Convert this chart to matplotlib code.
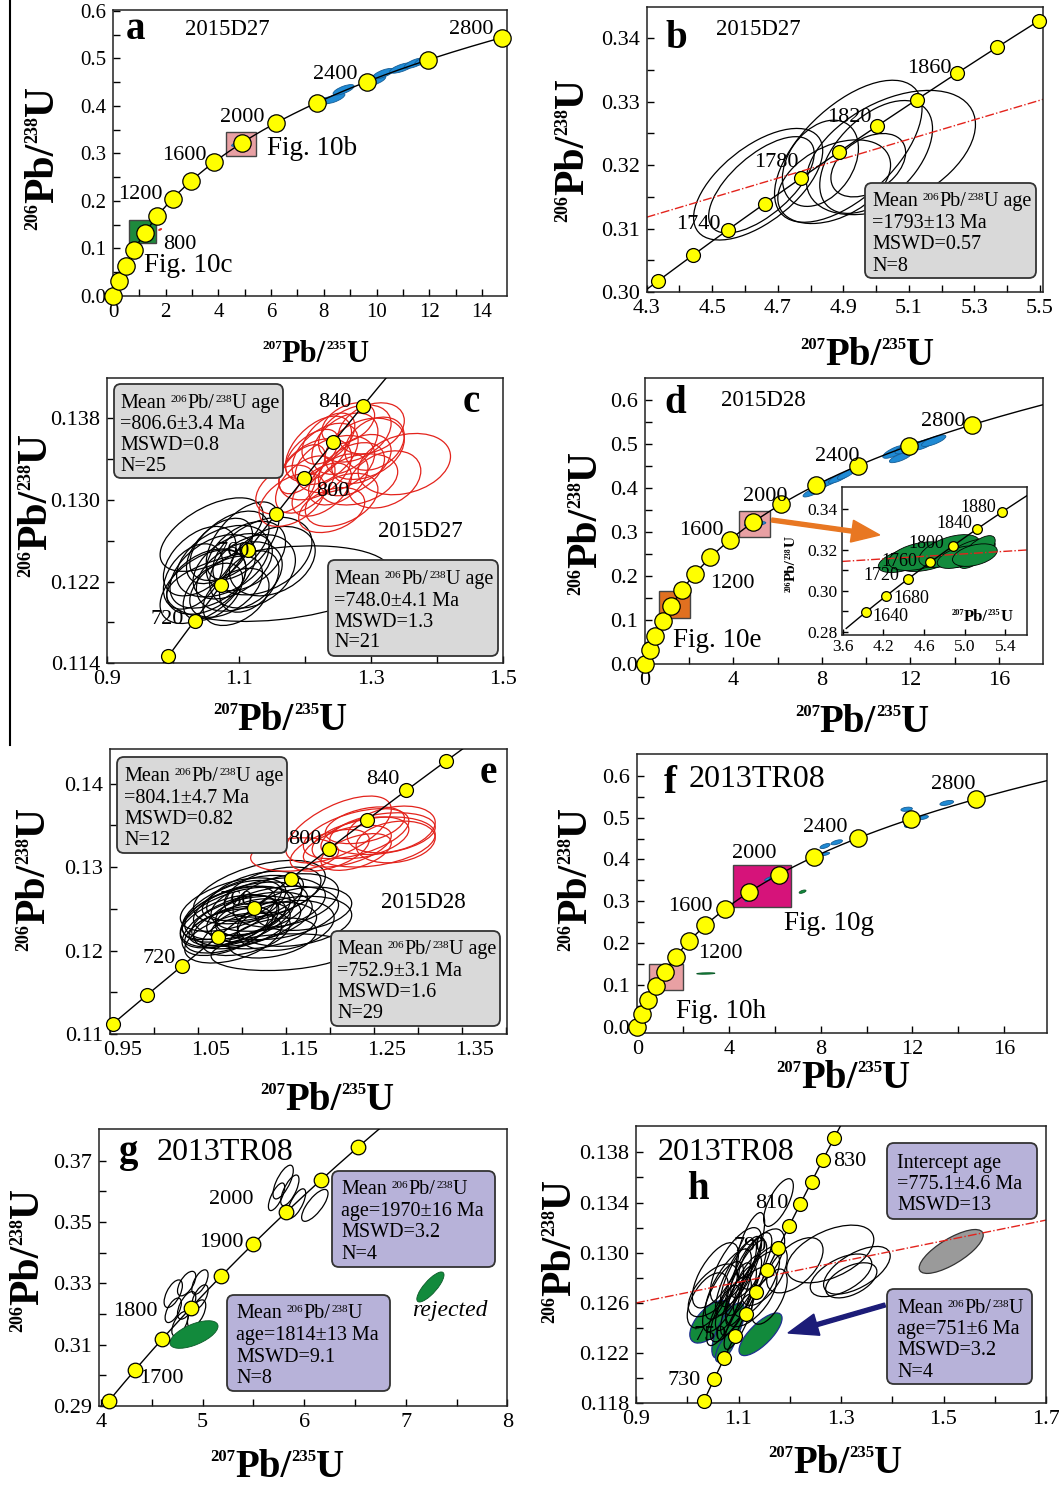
import numpy as np
import matplotlib
matplotlib.use('Agg')
import matplotlib.pyplot as plt
import matplotlib.transforms as mtrans
from matplotlib.patches import Ellipse, Rectangle, FancyBboxPatch, FancyArrow
from matplotlib.transforms import IdentityTransform
from matplotlib.lines import Line2D
from matplotlib.text import Annotation
from matplotlib.ticker import FixedLocator, FormatStrFormatter

plt.rcParams['font.family'] = ['Liberation Serif', 'DejaVu Serif']
plt.rcParams['mathtext.fontset'] = 'custom'
plt.rcParams['mathtext.rm'] = 'Liberation Serif'
plt.rcParams['mathtext.it'] = 'Liberation Serif:italic'
plt.rcParams['mathtext.bf'] = 'Liberation Serif:bold'

W, H = 1059, 1485
L238, L235 = 1.55125e-10, 9.8485e-10   # 衰变常数

# ===================== 数据 =====================
# 椭圆: (207/235, 半宽, 206/238, 半高, rho)
A_AGES = list(range(0, 2801, 200))
A_BLUE = [(7.95, 0.40, 0.408, 0.011, 0.7), (8.40, 0.40, 0.416, 0.011, 0.7),
          (8.75, 0.40, 0.434, 0.011, 0.7), (9.95, 0.40, 0.453, 0.011, 0.7),
          (10.25, 0.40, 0.468, 0.011, 0.7), (10.95, 0.45, 0.480, 0.011, 0.7),
          (11.45, 0.40, 0.490, 0.011, 0.7), (11.80, 0.35, 0.496, 0.010, 0.7),
          (4.85, 0.35, 0.323, 0.008, 0.8)]

B_AGES = list(range(1700, 1901, 20))
B_ELL = [(4.640, 0.197, 0.3170, 0.0088, 0.60), (4.650, 0.161, 0.3169, 0.0076, 0.65),
         (4.915, 0.225, 0.3222, 0.0112, 0.60), (5.045, 0.258, 0.3220, 0.0098, 0.45),
         (4.872, 0.172, 0.3174, 0.0066, 0.40), (5.000, 0.172, 0.3213, 0.0089, 0.50),
         (4.976, 0.114, 0.3200, 0.0050, 0.40), (4.830, 0.116, 0.3203, 0.0068, 0.35)]
B_DISC = ([4.30, 5.51], [0.3118, 0.3304])

C_AGES = list(range(700, 841, 20))
C_RED = [(1.180, 0.050, 0.1300, 0.0026, 0.45), (1.200, 0.045, 0.1315, 0.0028, 0.50),
         (1.215, 0.055, 0.1330, 0.0030, 0.40), (1.230, 0.050, 0.1345, 0.0030, 0.45),
         (1.245, 0.060, 0.1335, 0.0028, 0.35), (1.260, 0.050, 0.1355, 0.0030, 0.40),
         (1.275, 0.055, 0.1365, 0.0028, 0.35), (1.290, 0.060, 0.1350, 0.0030, 0.30),
         (1.300, 0.050, 0.1370, 0.0025, 0.30), (1.225, 0.045, 0.1310, 0.0026, 0.50),
         (1.250, 0.045, 0.1320, 0.0025, 0.45), (1.270, 0.050, 0.1330, 0.0026, 0.40),
         (1.235, 0.040, 0.1360, 0.0025, 0.50), (1.210, 0.040, 0.1345, 0.0024, 0.55),
         (1.195, 0.035, 0.1330, 0.0024, 0.55), (1.285, 0.045, 0.1340, 0.0024, 0.35),
         (1.350, 0.070, 0.1335, 0.0030, 0.25), (1.320, 0.055, 0.1320, 0.0028, 0.30),
         (1.255, 0.055, 0.1300, 0.0026, 0.40), (1.240, 0.050, 0.1290, 0.0022, 0.35),
         (1.170, 0.045, 0.1310, 0.0024, 0.40), (1.265, 0.040, 0.1375, 0.0020, 0.40),
         (1.305, 0.045, 0.1355, 0.0026, 0.30), (1.220, 0.050, 0.1350, 0.0032, 0.50),
         (1.280, 0.060, 0.1320, 0.0025, 0.30)]
C_BLK = [(1.060, 0.065, 0.1230, 0.0036, 0.45), (1.075, 0.070, 0.1240, 0.0035, 0.40),
         (1.090, 0.060, 0.1235, 0.0032, 0.45), (1.100, 0.065, 0.1225, 0.0034, 0.35),
         (1.050, 0.060, 0.1220, 0.0032, 0.40), (1.080, 0.055, 0.1215, 0.0030, 0.45),
         (1.110, 0.060, 0.1245, 0.0034, 0.40), (1.120, 0.065, 0.1230, 0.0036, 0.30),
         (1.070, 0.050, 0.1250, 0.0032, 0.50), (1.040, 0.055, 0.1240, 0.0034, 0.45),
         (1.095, 0.050, 0.1205, 0.0028, 0.40), (1.135, 0.075, 0.1245, 0.0038, 0.35),
         (1.085, 0.060, 0.1255, 0.0034, 0.50), (1.060, 0.045, 0.1210, 0.0028, 0.45),
         (1.105, 0.055, 0.1260, 0.0038, 0.55), (1.150, 0.065, 0.1240, 0.0034, 0.30),
         (1.030, 0.045, 0.1225, 0.0032, 0.40), (1.058, 0.078, 0.1266, 0.0036, 0.55),
         (1.160, 0.170, 0.1218, 0.0037, 0.30), (1.115, 0.045, 0.1220, 0.0030, 0.40),
         (1.045, 0.065, 0.1215, 0.0036, 0.50)]

D_AGES = list(range(0, 2801, 200))
D_BLUE = [(7.60, 0.45, 0.392, 0.012, 0.8), (7.95, 0.45, 0.405, 0.012, 0.8),
          (8.35, 0.45, 0.415, 0.012, 0.8), (8.75, 0.45, 0.423, 0.012, 0.8),
          (9.10, 0.40, 0.432, 0.012, 0.8), (11.30, 0.55, 0.483, 0.015, 0.75),
          (11.55, 0.50, 0.470, 0.012, 0.75), (11.85, 0.55, 0.492, 0.014, 0.75),
          (12.20, 0.55, 0.494, 0.014, 0.75), (12.60, 0.55, 0.500, 0.014, 0.75),
          (13.05, 0.55, 0.508, 0.013, 0.75), (5.07, 0.40, 0.319, 0.005, 0.5),
          (4.75, 0.25, 0.318, 0.005, 0.5)]
DI_AGES = list(range(1640, 1881, 40))
DI_GRN = [(4.40, 0.25, 0.3150, 0.0060, 0.5), (4.65, 0.30, 0.3160, 0.0065, 0.5),
          (4.55, 0.30, 0.3170, 0.0070, 0.4), (4.85, 0.30, 0.3195, 0.0080, 0.5),
          (5.05, 0.25, 0.3185, 0.0070, 0.6), (5.12, 0.18, 0.3190, 0.0080, 0.7),
          (4.95, 0.22, 0.3165, 0.0055, 0.5), (5.10, 0.22, 0.3175, 0.0055, 0.4)]
DI_DISC = ([3.79, 5.61], [0.3144, 0.3200])

E_AGES = list(range(680, 861, 20))
E_RED = [(1.160, 0.050, 0.1315, 0.0020, 0.2), (1.230, 0.060, 0.1340, 0.0030, 0.5),
         (1.240, 0.050, 0.1335, 0.0025, 0.4), (1.250, 0.070, 0.1330, 0.0030, 0.3),
         (1.220, 0.050, 0.1325, 0.0025, 0.5), (1.260, 0.060, 0.1340, 0.0025, 0.3),
         (1.210, 0.060, 0.1345, 0.0040, 0.6), (1.270, 0.050, 0.1345, 0.0028, 0.3),
         (1.200, 0.045, 0.1320, 0.0025, 0.5), (1.240, 0.045, 0.1350, 0.0022, 0.4),
         (1.275, 0.045, 0.1330, 0.0025, 0.2), (1.230, 0.040, 0.1318, 0.0022, 0.5)]
E_BLK = [(1.085, 0.055, 0.1235, 0.0032, 0.50), (1.095, 0.060, 0.1245, 0.0032, 0.45),
         (1.110, 0.065, 0.1250, 0.0032, 0.40), (1.100, 0.055, 0.1230, 0.0028, 0.45),
         (1.120, 0.060, 0.1240, 0.0030, 0.40), (1.090, 0.060, 0.1255, 0.0032, 0.50),
         (1.130, 0.065, 0.1255, 0.0032, 0.35), (1.085, 0.050, 0.1225, 0.0028, 0.50),
         (1.105, 0.050, 0.1220, 0.0026, 0.45), (1.140, 0.070, 0.1245, 0.0032, 0.30),
         (1.095, 0.065, 0.1240, 0.0036, 0.50), (1.115, 0.055, 0.1265, 0.0030, 0.45),
         (1.090, 0.055, 0.1215, 0.0030, 0.45), (1.125, 0.060, 0.1230, 0.0028, 0.35),
         (1.150, 0.060, 0.1260, 0.0032, 0.35), (1.100, 0.068, 0.1250, 0.0040, 0.55),
         (1.085, 0.053, 0.1245, 0.0032, 0.55), (1.135, 0.055, 0.1270, 0.0030, 0.45),
         (1.160, 0.065, 0.1235, 0.0030, 0.25), (1.100, 0.045, 0.1260, 0.0024, 0.45),
         (1.145, 0.080, 0.1198, 0.0022, 0.20), (1.170, 0.055, 0.1250, 0.0026, 0.25),
         (1.085, 0.045, 0.1228, 0.0022, 0.45), (1.120, 0.075, 0.1270, 0.0038, 0.50),
         (1.110, 0.040, 0.1240, 0.0022, 0.45), (1.135, 0.050, 0.1215, 0.0024, 0.35),
         (1.087, 0.055, 0.1230, 0.0036, 0.55), (1.150, 0.055, 0.1230, 0.0030, 0.30),
         (1.105, 0.062, 0.1235, 0.0030, 0.40)]

F_AGES = list(range(0, 2801, 200))
F_BLUE = [(11.75, 0.25, 0.520, 0.005, 0.3), (11.90, 0.25, 0.482, 0.006, 0.3),
          (12.45, 0.25, 0.500, 0.005, 0.5), (13.50, 0.30, 0.535, 0.006, 0.5),
          (8.19, 0.22, 0.432, 0.006, 0.6), (8.70, 0.25, 0.441, 0.006, 0.6),
          (8.19, 0.20, 0.413, 0.004, 0.6), (7.60, 0.18, 0.402, 0.004, 0.6),
          (5.80, 0.25, 0.355, 0.006, 0.8), (6.00, 0.25, 0.360, 0.006, 0.8),
          (4.78, 0.22, 0.318, 0.006, 0.8), (4.86, 0.22, 0.312, 0.006, 0.8),
          (4.92, 0.22, 0.305, 0.006, 0.8)]
F_GRN = [(7.21, 0.15, 0.323, 0.004, 0.6), (2.99, 0.40, 0.1275, 0.0018, 0.3)]

G_AGES = list(range(1650, 2051, 50))
G_BLK = [(4.711, 0.09, 0.3266, 0.0045, 0.6), (4.843, 0.09, 0.3299, 0.0040, 0.6),
         (4.974, 0.08, 0.3304, 0.0040, 0.6), (4.843, 0.09, 0.3228, 0.0045, 0.6),
         (4.974, 0.08, 0.3255, 0.0040, 0.6), (4.711, 0.08, 0.3212, 0.0040, 0.6),
         (4.777, 0.08, 0.3168, 0.0040, 0.6), (4.941, 0.09, 0.3201, 0.0045, 0.6),
         (5.793, 0.10, 0.3630, 0.0055, 0.7), (5.859, 0.09, 0.3603, 0.0050, 0.7),
         (5.728, 0.08, 0.3582, 0.0045, 0.7), (5.925, 0.09, 0.3560, 0.0048, 0.7),
         (6.105, 0.13, 0.3554, 0.0052, 0.75)]
G_GRN = [(4.915, 0.237, 0.3133, 0.0045, 0.6), (7.243, 0.134, 0.3288, 0.0049, 0.8)]

H_AGES = list(range(720, 841, 10))
H_BLK = [(1.178, 0.029, 0.1340, 0.0019, 0.70), (1.123, 0.028, 0.1306, 0.0026, 0.70),
         (1.279, 0.085, 0.1299, 0.0023, 0.50), (1.331, 0.065, 0.1286, 0.0019, 0.60),
         (1.300, 0.060, 0.1282, 0.0017, 0.55), (1.320, 0.050, 0.1278, 0.0014, 0.50),
         (1.210, 0.055, 0.1290, 0.0022, 0.55), (1.050, 0.048, 0.1270, 0.0021, 0.60),
         (1.080, 0.045, 0.1275, 0.0028, 0.75), (1.095, 0.040, 0.1280, 0.0030, 0.80),
         (1.105, 0.040, 0.1285, 0.0028, 0.80), (1.115, 0.040, 0.1280, 0.0030, 0.80),
         (1.090, 0.035, 0.1265, 0.0027, 0.80), (1.100, 0.035, 0.1262, 0.0028, 0.80),
         (1.110, 0.035, 0.1270, 0.0028, 0.80), (1.125, 0.040, 0.1290, 0.0026, 0.75),
         (1.085, 0.040, 0.1255, 0.0026, 0.75), (1.070, 0.040, 0.1265, 0.0028, 0.70),
         (1.135, 0.045, 0.1275, 0.0026, 0.70), (1.150, 0.045, 0.1282, 0.0024, 0.60),
         (1.070, 0.032, 0.1250, 0.0024, 0.75), (1.095, 0.050, 0.1290, 0.0030, 0.70),
         (1.055, 0.045, 0.1282, 0.0026, 0.65), (1.145, 0.045, 0.1295, 0.0024, 0.60),
         (1.100, 0.028, 0.1245, 0.0022, 0.80), (1.125, 0.050, 0.1265, 0.0024, 0.60),
         (1.160, 0.035, 0.1265, 0.0022, 0.60), (1.040, 0.040, 0.1262, 0.0022, 0.55)]
H_GRN = [(1.045, 0.040, 0.1245, 0.0017, 0.60), (1.080, 0.032, 0.1238, 0.0022, 0.70),
         (1.143, 0.042, 0.1235, 0.0017, 0.75), (1.075, 0.020, 0.1225, 0.0012, 0.70)]
H_GRAY = [(1.515, 0.0625, 0.1301, 0.00175, 0.75)]
H_DISC = ([0.9, 1.7], [0.1260, 0.1326])

# 文本框: (文字, 是否上标)
MEAN_AGE = [('Mean', 0), ('206', 1), ('Pb/', 0), ('238', 1), ('U age', 0)]
MEAN_U = [('Mean', 0), ('206', 1), ('Pb/', 0), ('238', 1), ('U', 0)]
BOX_C1 = [MEAN_AGE, "=806.6±3.4 Ma", "MSWD=0.8", "N=25"]
BOX_C2 = [MEAN_AGE, "=748.0±4.1 Ma", "MSWD=1.3", "N=21"]
BOX_B = [MEAN_AGE, "=1793±13 Ma", "MSWD=0.57", "N=8"]
BOX_E1 = [MEAN_AGE, "=804.1±4.7 Ma", "MSWD=0.82", "N=12"]
BOX_E2 = [MEAN_AGE, "=752.9±3.1 Ma", "MSWD=1.6", "N=29"]
BOX_G1 = [MEAN_U, "age=1970±16 Ma", "MSWD=3.2", "N=4"]
BOX_G2 = [MEAN_U, "age=1814±13 Ma", "MSWD=9.1", "N=8"]
BOX_H1 = ["Intercept age", "=775.1±4.6 Ma", "MSWD=13"]
BOX_H2 = [MEAN_U, "age=751±6 Ma", "MSWD=3.2", "N=4"]

YEL = '#ffff00'
BLUE = '#1f8ad4'
GRN = '#128a3c'
REDL = '#e3231c'
GRAYBOX = '#d9d9d9'
PURBOX = '#b7b2d9'

fig = plt.figure(figsize=(W / 100, H / 100), dpi=100)
fig.patch.set_facecolor('white')


def conc(t_ma):
    t = np.asarray(t_ma, dtype=float) * 1e6
    return np.exp(L235 * t) - 1, np.exp(L238 * t) - 1


def add_ax(box):
    l, t, r, b = box
    return fig.add_axes([l / W, 1 - b / H, (r - l) / W, (b - t) / H])


def make_panel(box, xlim, ylim, xt, xm, xf, yt, ym, yf, ls=15):
    ax = add_ax(box)
    ax.set_xlim(*xlim); ax.set_ylim(*ylim)
    ax.xaxis.set_major_locator(FixedLocator(xt)); ax.xaxis.set_minor_locator(FixedLocator(xm))
    ax.yaxis.set_major_locator(FixedLocator(yt)); ax.yaxis.set_minor_locator(FixedLocator(ym))
    ax.xaxis.set_major_formatter(FormatStrFormatter(xf))
    ax.yaxis.set_major_formatter(FormatStrFormatter(yf))
    ax.tick_params(which='both', direction='in', length=5, width=1, top=False, right=False,
                   labelsize=ls, pad=5)
    for s in ax.spines.values():
        s.set_linewidth(1.1); s.set_color('#222222')
    return ax


def ell(ax, e, fc='none', ec='k', lw=0.9, z=2):
    x, sx, y, sy, r = e
    cov = np.array([[sx * sx, r * sx * sy], [r * sx * sy, sy * sy]])
    vals, vecs = np.linalg.eigh(cov)
    ang = np.degrees(np.arctan2(vecs[1, 1], vecs[0, 1]))
    ax.add_patch(Ellipse((x, y), 2 * np.sqrt(vals[1]), 2 * np.sqrt(vals[0]), angle=ang,
                         fc=fc, ec=ec, lw=lw, zorder=z))


def concordia(ax, t0, t1, ages, ms, lw=1.0):
    x, y = conc(np.linspace(t0, t1, 400))
    ax.plot(x, y, color='k', lw=lw, zorder=3)
    mx, my = conc(ages)
    ax.plot(mx, my, 'o', ms=ms, mfc=YEL, mec='k', mew=0.9, zorder=5, clip_on=False)


def txt(ax, x, y, s, size=16, **kw):
    kw.setdefault('ha', 'center'); kw.setdefault('va', 'center')
    ax.text(x, y, s, fontsize=size, zorder=6, **kw)


def iso_xlabel(ax, cx, base, up, lo, size=28, ss=12):
    t = ax.text(cx / W, 1 - base / H, 'Pb/', transform=fig.transFigure, ha='center',
                va='baseline', fontsize=size, fontweight='bold')
    ax.annotate(up, xy=(0, 1), xycoords=t, ha='right', va='top', fontsize=ss, fontweight='bold')
    s2 = ax.annotate(lo, xy=(1, 1), xycoords=t, ha='left', va='top', fontsize=ss, fontweight='bold')
    ax.annotate('U', xy=(1, 0), xycoords=(s2, t), ha='left', va='bottom', fontsize=size,
                fontweight='bold')


def iso_ylabel(ax, cx, cy, up, lo, size=30, ss=13):
    t = ax.text(cx / W, 1 - cy / H, 'Pb/', transform=fig.transFigure, rotation=90,
                ha='center', va='center', fontsize=size, fontweight='bold')
    ax.annotate(up, xy=(0, 0), xycoords=t, rotation=90, ha='left', va='top', fontsize=ss,
                fontweight='bold')
    s2 = ax.annotate(lo, xy=(0, 1), xycoords=t, rotation=90, ha='left', va='bottom',
                     fontsize=ss, fontweight='bold')
    ax.annotate('U', xy=(0, 1), xycoords=(t, s2), rotation=90, ha='left', va='bottom',
                fontsize=size, fontweight='bold')


def sup_line(x, y, parts, size=14.5, ss=8):
    """一行带上标的文字，逐段串接（y 为基线像素）。"""
    t0 = fig.text(x / W, 1 - y / H, parts[0][0], ha='left', va='baseline', fontsize=size,
                  zorder=11)
    prev = t0
    for k, (s, sup) in enumerate(parts[1:]):
        gap = 3.6 if k == 0 else 0.3
        if sup:
            a = Annotation(s, xy=(1, 1), xycoords=(prev, t0), xytext=(gap, -1),
                           textcoords='offset points', ha='left', va='top', fontsize=ss,
                           zorder=11)
        else:
            a = Annotation(s, xy=(1, 0), xycoords=(prev, t0), xytext=(gap, 0),
                           textcoords='offset points', ha='left', va='bottom', fontsize=size,
                           zorder=11)
        fig.add_artist(a)
        prev = a


def info_box(box, fc, lines, left, ys, size=14.5):
    l, t, r, b = box
    fig.add_artist(FancyBboxPatch((l, H - b), r - l, b - t,
                                  boxstyle='round,pad=0,rounding_size=7',
                                  transform=IdentityTransform(), fc=fc, ec='#333333',
                                  lw=1.3, zorder=10))
    for s, y in zip(lines, ys):
        if isinstance(s, str):
            fig.text(left / W, 1 - (y + 6) / H, s, ha='left', va='baseline', fontsize=size,
                     zorder=11)
        else:
            sup_line(left, y + 6, s, size)


def rect(ax, x0, x1, y0, y1, fc):
    ax.add_patch(Rectangle((x0, y0), x1 - x0, y1 - y0, fc=fc, ec='#444444', lw=1, zorder=1))


# ===================== a =====================
ax = make_panel((113, 10, 507, 296), (0, 14.95), (0, 0.602),
                np.arange(0, 15, 2), np.arange(1, 15, 2), '%d',
                np.arange(0, 0.61, 0.1), np.arange(0.05, 0.6, 0.1), '%.1f')
rect(ax, 4.28, 5.42, 0.295, 0.346, '#e8a0a3')
rect(ax, 0.59, 1.64, 0.111, 0.161, '#1e8a3c')
for e in A_BLUE:
    ell(ax, e, fc=BLUE, ec='#155d96', lw=0.6)
ell(ax, (1.79, 0.06, 0.140, 0.002, 0.6), fc=REDL, ec=REDL, lw=0.5)
concordia(ax, 0, 3000, A_AGES, 12.5)
for s, x, y in [('2800', 13.6, 0.561), ('2400', 8.42, 0.467), ('2000', 4.92, 0.376),
                ('1600', 2.70, 0.296), ('1200', 1.04, 0.213), ('800', 2.55, 0.109)]:
    txt(ax, x, y, s)
txt(ax, 4.32, 0.561, '2015D27', 16.5)
txt(ax, 0.85, 0.562, 'a', 28, fontweight='bold')
txt(ax, 5.83, 0.311, 'Fig. 10b', 19.5, ha='left')
txt(ax, 1.16, 0.065, 'Fig. 10c', 19.5, ha='left')
iso_xlabel(ax, 304, 362, '207', '235', 22, 9.5)
iso_ylabel(ax, 43, 173, '206', '238')

# ===================== b =====================
ax = make_panel((646.7, 6.7, 1043.3, 292), (4.3, 5.51), (0.30, 0.345),
                np.arange(4.3, 5.51, 0.2), np.arange(4.4, 5.51, 0.2), '%.1f',
                np.arange(0.30, 0.345, 0.01), np.arange(0.305, 0.345, 0.01), '%.2f', 16)
for e in B_ELL:
    ell(ax, e)
ax.plot(*B_DISC, color=REDL, lw=1, ls='-.', zorder=2.5)
concordia(ax, 1650, 1950, B_AGES, 10)
for s, x, y in [('1860', 5.161, 0.3352), ('1820', 4.918, 0.3276), ('1780', 4.697, 0.3205),
                ('1740', 4.457, 0.3107)]:
    txt(ax, x, y, s)
txt(ax, 4.639, 0.3414, '2015D27', 16.5)
txt(ax, 4.391, 0.3400, 'b', 28, fontweight='bold')
info_box((865, 183, 1036, 278), GRAYBOX, BOX_B, 872, [200, 222, 243, 265])
iso_xlabel(ax, 853, 365, '207', '235')
iso_ylabel(ax, 573, 165, '206', '238')

# ===================== c =====================
ax = make_panel((107.3, 378.3, 503.3, 663.3), (0.9, 1.5), (0.114, 0.1419),
                [0.9, 1.1, 1.3, 1.5], [1.0, 1.2, 1.4], '%.1f',
                [0.114, 0.122, 0.130, 0.138], [0.118, 0.126, 0.134], '%.3f', 16)
for e in C_BLK:
    ell(ax, e)
for e in C_RED:
    ell(ax, e, ec=REDL, lw=0.9)
concordia(ax, 680, 880, C_AGES, 10)
for s, x, y in [('840', 1.245, 0.1395), ('800', 1.241, 0.1308), ('720', 0.990, 0.1183),
                ('760', 1.091, 0.1249)]:
    txt(ax, x, y, s)
txt(ax, 1.375, 0.1269, '2015D27', 16.5)
txt(ax, 1.452, 0.1395, 'c', 28, fontweight='bold')
info_box((114, 384, 283, 478), GRAYBOX, BOX_C1, 120, [402, 423, 444, 465])
info_box((328, 560, 498, 656), GRAYBOX, BOX_C2, 334, [578, 600, 621, 641])
iso_xlabel(ax, 266, 730, '207', '235')
iso_ylabel(ax, 36, 520, '206', '238')

# ===================== d =====================
ax = make_panel((644.7, 378.3, 1043.3, 664), (0, 18), (0, 0.65),
                [0, 4, 8, 12, 16], np.arange(2, 18, 4), '%d',
                np.arange(0, 0.61, 0.1), np.arange(0.05, 0.65, 0.1), '%.1f', 16)
rect(ax, 0.66, 2.05, 0.104, 0.165, '#e07020')
rect(ax, 4.24, 5.64, 0.290, 0.349, '#e8a0a3')
for e in D_BLUE:
    ell(ax, e, fc=BLUE, ec='#155d96', lw=0.6)
concordia(ax, 0, 3400, D_AGES, 12.5)
for s, x, y in [('2800', 13.5, 0.552), ('2400', 8.69, 0.473), ('2000', 5.44, 0.381),
                ('1600', 2.58, 0.303), ('1200', 3.94, 0.184)]:
    txt(ax, x, y, s)
txt(ax, 5.37, 0.599, '2015D28', 16.5)
txt(ax, 1.37, 0.593, 'd', 28, fontweight='bold')
txt(ax, 1.30, 0.053, 'Fig. 10e', 19.5, ha='left')
iso_xlabel(ax, 848, 732, '207', '235')
iso_ylabel(ax, 586, 538, '206', '238')

axi = make_panel((841.7, 487.3, 1026.7, 635), (3.79, 5.61), (0.2785, 0.3506),
                 [3.8, 4.2, 4.6, 5.0, 5.4], [], '%.1f',
                 [0.28, 0.30, 0.32, 0.34], [0.29, 0.31, 0.33], '%.2f', 12.5)
axi.set_xticklabels(['3.6', '4.2', '4.6', '5.0', '5.4'])
axi.tick_params(which='both', length=4, pad=3)
for e in DI_GRN:
    ell(axi, e, fc=GRN, ec='k', lw=0.6)
axi.plot(*DI_DISC, color=REDL, lw=1, ls='-.', zorder=2.5)
concordia(axi, 1600, 1950, DI_AGES, 7)
for s, x, y in [('1880', 5.134, 0.3405), ('1840', 4.895, 0.3328), ('1800', 4.626, 0.3234),
                ('1760', 4.357, 0.3144), ('1720', 4.184, 0.3077), ('1680', 4.479, 0.2965),
                ('1640', 4.266, 0.2877)]:
    txt(axi, x, y, s, 13)
iso_xlabel(axi, 976, 621, '207', '235', 12, 6)
iso_ylabel(axi, 791, 570, '206', '238', 11, 5.5)
fig.add_artist(FancyArrow(771.7, H - 520, 108, -15, width=4, head_width=22, head_length=28,
                          length_includes_head=True, color='#e87722',
                          transform=IdentityTransform(), zorder=12))

# ===================== e =====================
ax = make_panel((110, 749.3, 507.3, 1034), (0.95, 1.402), (0.11, 0.1441),
                [0.95, 1.05, 1.15, 1.25, 1.35], [1.0, 1.1, 1.2, 1.3, 1.4], '%.2f',
                [0.11, 0.12, 0.13, 0.14], [0.115, 0.125, 0.135], '%.2f', 16)
shift = mtrans.ScaledTranslation(0.125, 0, fig.dpi_scale_trans)
for lab in ax.get_xticklabels():
    lab.set_transform(lab.get_transform() + shift)
for e in E_BLK:
    ell(ax, e)
for e in E_RED:
    ell(ax, e, ec=REDL, lw=0.9)
concordia(ax, 670, 880, E_AGES, 10)
for s, x, y in [('840', 1.2605, 0.1405), ('800', 1.172, 0.1333), ('720', 1.0057, 0.1190),
                ('760', 1.093, 0.1260)]:
    txt(ax, x, y, s)
txt(ax, 1.306, 0.1257, '2015D28', 16.5)
txt(ax, 1.3805, 0.1412, 'e', 28, fontweight='bold')
info_box((117, 757, 287, 853), GRAYBOX, BOX_E1, 124, [775, 797, 818, 839])
info_box((331, 931, 500, 1026), GRAYBOX, BOX_E2, 337, [948, 970, 991, 1012])
iso_xlabel(ax, 313, 1110, '207', '235')
iso_ylabel(ax, 34, 894, '206', '238')

# ===================== f =====================
ax = make_panel((637.3, 754, 1046.7, 1032.7), (0, 17.86), (-0.014, 0.652),
                [0, 4, 8, 12, 16], np.arange(2, 18, 4), '%d',
                np.arange(0, 0.61, 0.1), np.arange(0.05, 0.65, 0.1), '%.1f', 16)
rect(ax, 4.16, 6.69, 0.287, 0.386, '#d6137a')
rect(ax, 0.52, 1.98, 0.088, 0.151, '#e8a0a3')
for e in F_BLUE:
    ell(ax, e, fc=BLUE, ec='#155d96', lw=0.6)
for e in F_GRN:
    ell(ax, e, fc=GRN, ec='#0b5a28', lw=0.6)
concordia(ax, 0, 3400, F_AGES, 12.5)
for s, x, y in [('2800', 13.79, 0.578), ('2400', 8.19, 0.4765), ('2000', 5.09, 0.414),
                ('1600', 2.30, 0.288), ('1200', 3.64, 0.175)]:
    txt(ax, x, y, s)
txt(ax, 1.43, 0.582, 'f', 28, fontweight='bold')
txt(ax, 5.21, 0.591, '2013TR08', 23)
txt(ax, 6.40, 0.247, 'Fig. 10g', 19.5, ha='left')
txt(ax, 1.67, 0.036, 'Fig. 10h', 19.5, ha='left')
iso_xlabel(ax, 829, 1088, '207', '235')
iso_ylabel(ax, 576, 894, '206', '238')

# ===================== g =====================
ax = make_panel((99, 1129.3, 507.3, 1406), (3.98, 8.0), (0.29, 0.3802),
                [4, 5, 6, 7, 8], [4.5, 5.5, 6.5, 7.5], '%d',
                [0.29, 0.31, 0.33, 0.35, 0.37], [0.30, 0.32, 0.34, 0.36], '%.2f', 16)
for e in G_BLK:
    ell(ax, e)
for e in G_GRN:
    ell(ax, e, fc=GRN, ec='#0b5a28', lw=0.6)
concordia(ax, 1600, 2150, G_AGES, 10.5)
for s, x, y in [('1700', 4.597, 0.2989), ('1800', 4.334, 0.3207), ('1900', 5.187, 0.3432),
                ('2000', 5.285, 0.3573)]:
    txt(ax, x, y, s)
txt(ax, 4.269, 0.3725, 'g', 28, fontweight='bold')
txt(ax, 5.22, 0.3725, '2013TR08', 23)
txt(ax, 7.43, 0.3210, 'rejected', 17, style='italic')
info_box((332, 1171, 495, 1267), PURBOX, BOX_G1, 341, [1188, 1210, 1231, 1253])
info_box((227, 1295, 390, 1391), PURBOX, BOX_G2, 236, [1312, 1334, 1356, 1377])
iso_xlabel(ax, 263, 1477, '207', '235')
iso_ylabel(ax, 28, 1275, '206', '238')

# ===================== h =====================
ax = make_panel((636, 1126, 1046, 1403.3), (0.9, 1.7), (0.118, 0.1401),
                [0.9, 1.1, 1.3, 1.5, 1.7], [1.0, 1.2, 1.4, 1.6], '%.1f',
                [0.118, 0.122, 0.126, 0.130, 0.134, 0.138],
                [0.120, 0.124, 0.128, 0.132, 0.136], '%.3f', 16)
for e in H_GRN:
    ell(ax, e, fc=GRN, ec='#1f2f8f', lw=0.9)
for e in H_BLK:
    ell(ax, e)
for e in H_GRAY:
    ell(ax, e, fc='#9a9a9a', ec='#333333', lw=0.9)
ax.plot(*H_DISC, color=REDL, lw=1, ls='-.', zorder=2.5)
concordia(ax, 710, 860, H_AGES, 10)
for s, x, y in [('830', 1.318, 0.1373), ('810', 1.165, 0.1339), ('790', 1.123, 0.1305),
                ('750', 1.0445, 0.1234), ('730', 0.994, 0.1198)]:
    txt(ax, x, y, s)
txt(ax, 1.0758, 0.1380, '2013TR08', 23)
txt(ax, 1.0217, 0.1350, 'h', 28, fontweight='bold')
info_box((887, 1143, 1037, 1219), PURBOX, BOX_H1, 897, [1162, 1183, 1204])
info_box((887, 1289, 1032, 1384), PURBOX, BOX_H2, 897, [1307, 1328, 1349, 1371])
fig.add_artist(FancyArrow(885, H - 1305, -97, -28, width=4, head_width=22, head_length=30,
                          length_includes_head=True, color='#1c1c78',
                          transform=IdentityTransform(), zorder=12))
iso_xlabel(ax, 821, 1473, '207', '235')
iso_ylabel(ax, 560, 1266, '206', '238')

# 左侧竖线
fig.add_artist(Line2D([10, 10], [H, H - 745], transform=IdentityTransform(), color='k', lw=1.5))

fig.savefig('out.png', dpi=100, facecolor='white')
